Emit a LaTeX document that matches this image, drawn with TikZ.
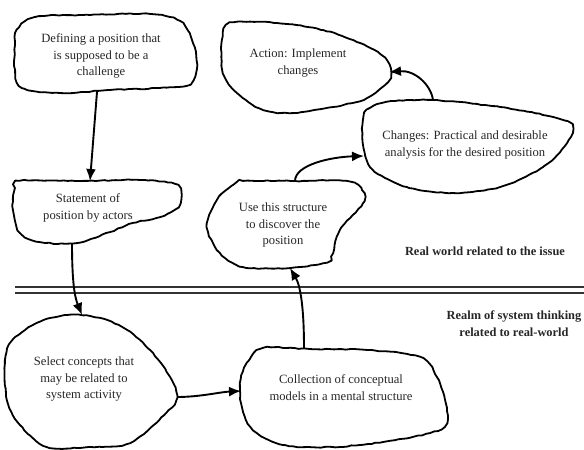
\documentclass[tikz,border=0pt]{standalone}
\usepackage{fontspec}
\setmainfont{Liberation Serif}
\usetikzlibrary{arrows.meta,decorations.pathmorphing}
\begin{document}
\begin{tikzpicture}[x=1pt,y=-1pt,
  blob/.style={line width=1.8pt, line join=round, decorate,
    decoration={random steps,segment length=4pt,amplitude=0.45pt}},
  txt/.style={align=center, font=\fontsize{12.6}{16.8}\selectfont, text=black!85},
  lbl/.style={align=center, font=\fontsize{12.4}{17}\selectfont\bfseries, text=black!85},
  arr/.style={line width=1.9pt, -{Latex[length=12pt,width=10pt]}},
  sep/.style={line width=1.5pt, double, double distance=4.2pt, draw=black!80},
]
\pgfmathsetseed{7}
\useasboundingbox (0,0) rectangle (584,450);

% blobs
\draw[blob] plot[smooth cycle, tension=0.55] coordinates {
  (17,30) (35,17) (90,15) (150,14) (180,21) (192,40) (197,65) (190,84)
  (160,88) (110,90) (60,93) (22,88) (15,70) (15,45)};
\draw[blob] plot[smooth cycle, tension=0.55] coordinates {
  (20,181) (80,181) (140,180) (175,184) (181,195) (178,207) (160,217)
  (133,223) (110,232) (77,243) (40,242) (20,233) (13,210) (14,192)};
\draw[blob] plot[smooth cycle, tension=0.55] coordinates {
  (37,323) (67,315) (100,318) (127,330) (150,350) (170,377) (177,397)
  (167,412) (130,443) (90,447) (47,447) (20,425) (7,400) (5,360) (13,340)};
\draw[blob] plot[smooth cycle, tension=0.55] coordinates {
  (263,348) (310,349) (367,350) (420,357) (437,377) (445,400) (447,423)
  (430,433) (383,442) (333,447) (283,445) (253,430) (242,407) (240,383) (247,363)};
\draw[blob] plot[smooth cycle, tension=0.55] coordinates {
  (243,181) (295,181) (347,181) (362,190) (363,203) (340,230) (333,253)
  (327,262) (290,268) (243,267) (220,253) (207,227) (217,200) (233,185)};
\draw[blob] plot[smooth cycle, tension=0.55] coordinates {
  (387,102) (433,100) (500,107) (553,117) (572,125) (567,143) (543,167)
  (500,187) (453,193) (407,187) (373,170) (363,145) (363,120) (367,110)};
\draw[blob] plot[smooth cycle, tension=0.55] coordinates {
  (230,23) (277,23) (323,30) (360,43) (385,58) (390,78) (367,98)
  (333,107) (293,113) (263,110) (237,93) (223,73) (222,40)};

% texts
\node[txt] (n1) at (101,56) {Defining a position that\\is supposed to be a\\challenge};
\node[txt] (n2) at (88,208) {Statement of\\position by actors};
\node[txt] (n3) at (84,379) {Select concepts that\\may be related to\\system activity};
\node[txt] (n4) at (341,388) {Collection of conceptual\\models in a mental structure};
\node[txt] (n5) at (283,225) {Use this structure\\to discover the\\position};
\node[txt] (n6) at (465,145) {Changes: Practical and desirable\\analysis for the desired position};
\node[txt] (n7) at (298,63) {Action: Implement\\changes};
\node[lbl] (l1) at (485,251) {Real world related to the issue};
\node[lbl] (l2) at (514,324) {Realm of system thinking\\related to real-world};

% separator
\coordinate (s1) at (15,290);
\coordinate (s2) at (584,290);
\draw[sep] (s1) -- (s2);

% connector anchors on blob outlines
\coordinate (a1) at (97,92);   \coordinate (b1) at (90,181);
\coordinate (a2) at (72,243);  \coordinate (b2) at (82,315);
\coordinate (a3) at (177,397); \coordinate (b3) at (241,391);
\coordinate (a4) at (304,348); \coordinate (b4) at (290,268);
\coordinate (a5) at (295,181); \coordinate (b5) at (364,156);
\coordinate (a6) at (433,100); \coordinate (b6) at (389,72);

\draw[arr] (a1) -- (b1);
\draw[arr] (a2) .. controls (72,290) and (76,300) .. (b2);
\draw[arr] (a3) .. controls (200,397) and (220,392) .. (b3);
\draw[arr] (a4) .. controls (304,305) and (300,285) .. (b4);
\draw[arr] (a5) .. controls (295,165) and (330,157) .. (b5);
\draw[arr] (a6) .. controls (431,85) and (415,70) .. (b6);
\end{tikzpicture}
\end{document}
